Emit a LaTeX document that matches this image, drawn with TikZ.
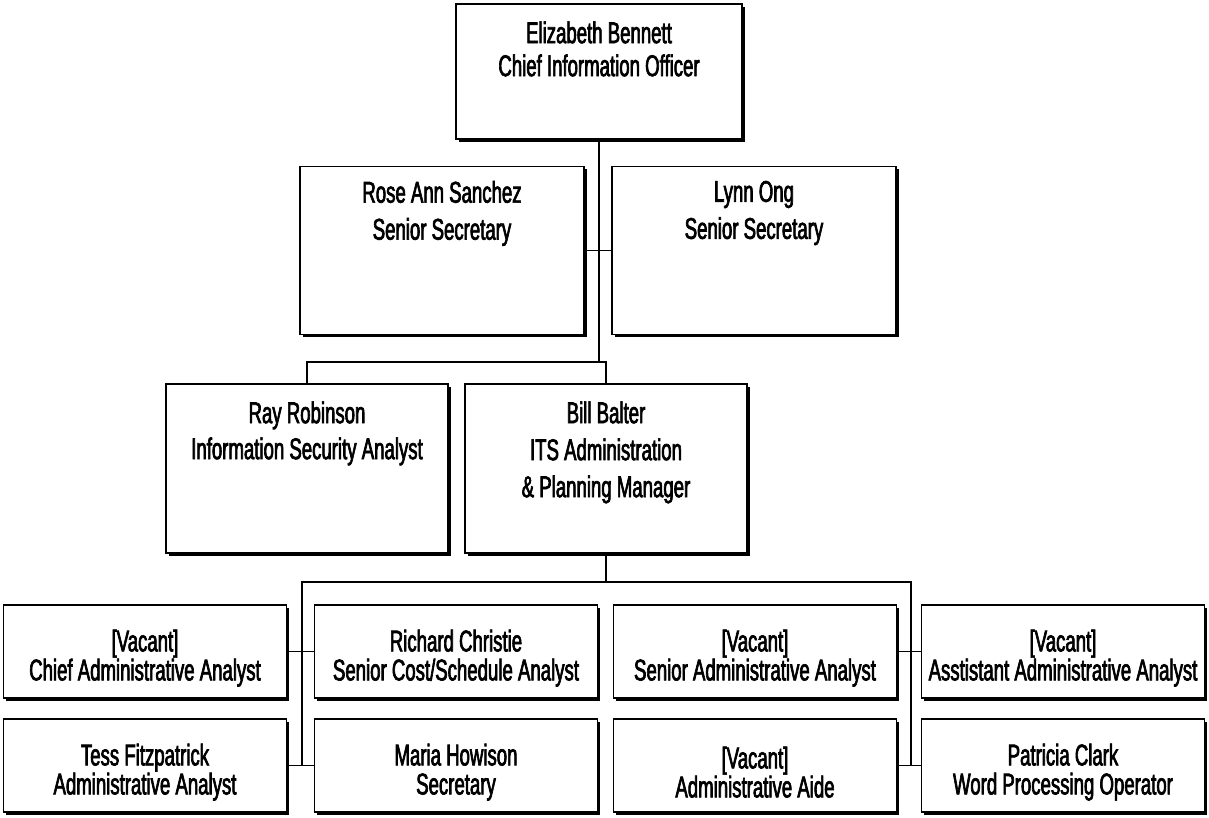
\documentclass[tikz,border=0pt]{standalone}
\usepackage{fontspec}
\setmainfont{Liberation Sans}[FakeStretch=0.62, FakeBold=2.2]

\begin{document}
\begin{tikzpicture}[x=1pt, y=-1pt,
  post/.style={draw, line width=1.6pt, fill=white, inner sep=0pt,
    preaction={fill=black, transform canvas={xshift=2.6pt, yshift=-2.6pt}}},
  tall/.style={post, minimum width=284pt, minimum height=168pt},
  small/.style={post, minimum width=283pt, minimum height=93pt, align=center,
    text height=64pt, font=\fontsize{30}{29}\selectfont},
  ttl/.style={anchor=north, inner sep=0pt, align=center, font=\fontsize{30}{#1}\selectfont},
  wire/.style={line width=1.4pt},
]
  \useasboundingbox (0,0) rectangle (1209,817);

  % top of the chart
  \node[post, minimum width=286pt, minimum height=135pt] (cio) at (599,71.5) {};
  \node[ttl=33] (cio-t) at ([yshift=-18pt]cio.north) {Elizabeth Bennett\\Chief Information Officer};

  % secretaries
  \node[tall] (rose) at (442,250.5) {};
  \node[tall] (lynn) at (754,250.5) {};
  \node[ttl=37] (rose-t) at ([yshift=-15pt]rose.north) {Rose Ann Sanchez\\Senior Secretary};
  \node[ttl=37] (lynn-t) at ([yshift=-15pt]lynn.north) {Lynn Ong\\Senior Secretary};

  % second level
  \node[tall, minimum width=282pt, minimum height=169pt] (ray) at (307,468.5) {};
  \node[tall, minimum width=282pt, minimum height=169pt] (bill) at (606,468.5) {};
  \node[ttl=36] (ray-t) at ([yshift=-18pt]ray.north) {Ray Robinson\\Information Security Analyst};
  \node[ttl=37] (bill-t) at ([yshift=-18pt]bill.north) {Bill Balter\\ITS Administration\\\& Planning Manager};

  % staff under Bill Balter
  \node[small] (vacchief)  at (145,651.5)  {[Vacant]\\Chief Administrative Analyst};
  \node[small] (richard)   at (456,651.5)  {Richard Christie\\Senior Cost/Schedule Analyst};
  \node[small] (vacsenior) at (755,651.5)  {[Vacant]\\Senior Administrative Analyst};
  \node[small] (vacasst)   at (1063,651.5) {[Vacant]\\Asstistant Administrative Analyst};
  \node[small] (tess)      at (145,765.5)  {Tess Fitzpatrick\\Administrative Analyst};
  \node[small] (maria)     at (456,765.5)  {Maria Howison\\Secretary};
  \node[small] (vacaide)   at (755,765.5)  {[Vacant]\\Administrative Aide};
  \node[small] (patricia)  at (1063,765.5) {Patricia Clark\\Word Processing Operator};

  % connectors
  \coordinate (hub) at (599,362);
  \coordinate (lbus) at (606,582);
  \coordinate (lspine) at (302,582);
  \coordinate (rspine) at (911,582);
  \draw[wire] (cio.south) -- (hub);
  \draw[wire] (rose.east) -- (lynn.west);
  \draw[wire] (ray.north) |- (bill.north |- hub) -- (bill.north);
  \draw[wire] (bill.south) -- (lbus);
  \draw[wire] (lspine |- tess.east) -- (lspine) -- (rspine) -- (rspine |- patricia.west);
  \draw[wire] (vacchief.east) -- (richard.west);
  \draw[wire] (tess.east) -- (maria.west);
  \draw[wire] (vacsenior.east) -- (vacasst.west);
  \draw[wire] (vacaide.east) -- (patricia.west);
\end{tikzpicture}
\end{document}
